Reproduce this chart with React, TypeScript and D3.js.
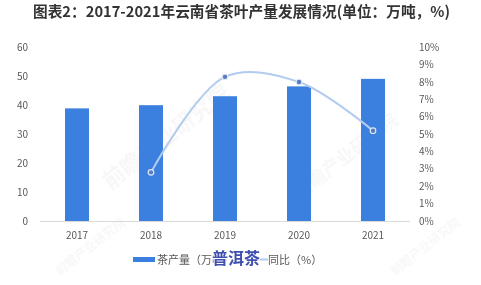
import React from "react";
import * as d3 from "d3";

const years = ["2017", "2018", "2019", "2020", "2021"];
const output = [38.9, 40.0, 43.1, 46.5, 49.1]; // 茶产量（万吨）
const yoyYears = ["2018", "2019", "2020", "2021"];
const yoy = [2.8, 8.3, 8.0, 5.2]; // 同比（%）
const leftTicks = [0, 10, 20, 30, 40, 50, 60];
const rightTicks = [0, 1, 2, 3, 4, 5, 6, 7, 8, 9, 10];

const W = 481;
const H = 285;
const font = "'Microsoft YaHei', 'Noto Sans CJK SC', sans-serif";

export default function App() {
  const x = d3.scaleBand<string>().domain(years).range([40, 410]).paddingInner(0);
  const yL = d3.scaleLinear().domain([0, 60]).range([221, 47.3]);
  const yR = d3.scaleLinear().domain([0, 10]).range([221, 47.3]);
  const barW = 24;
  const cx = (d: string) => (x(d) as number) + x.bandwidth() / 2;

  const pts: [number, number][] = yoyYears.map((yr, i) => [cx(yr), yR(yoy[i])]);
  const line = d3.line().curve(d3.curveCatmullRom.alpha(0.5))(pts) as string;

  const axisColor = "#595959";

  return (
    <svg width={W} height={H} style={{ position: "absolute", left: 0, top: 0, background: "#fff" }}>
      <rect width={W} height={H} fill="#fff" />
      {/* faint diagonal watermarks */}
      <g fill="#000" opacity={0.035} fontFamily={font} fontSize={22} fontWeight="bold">
        <text transform="translate(110,190) rotate(-38)">前瞻产业研究院</text>
        <text transform="translate(300,200) rotate(-38)" fontSize={18}>前瞻产业研究院</text>
        <text transform="translate(60,276) rotate(-38)" fontSize={12}>前瞻产业研究院</text>
        <text transform="translate(395,276) rotate(-38)" fontSize={12}>前瞻产业研究院</text>
      </g>

      <text x={33} y={17} fontFamily={font} fontSize={15} fontWeight="bold" fill="#333" textLength={417} lengthAdjust="spacingAndGlyphs">
        图表2：2017-2021年云南省茶叶产量发展情况(单位：万吨，%)
      </text>

      {/* left axis labels */}
      {leftTicks.map((t) => (
        <text key={"l" + t} x={28} y={yL(t)} dy="0.35em" textAnchor="end" fontFamily={font} fontSize={10} fill={axisColor}>
          {t}
        </text>
      ))}
      {/* right axis labels */}
      {rightTicks.map((t) => (
        <text key={"r" + t} x={419} y={yR(t)} dy="0.35em" textAnchor="start" fontFamily={font} fontSize={10} fill={axisColor}>
          {t + "%"}
        </text>
      ))}

      {/* bars */}
      {years.map((yr, i) => (
        <rect key={yr} x={cx(yr) - barW / 2} y={yL(output[i])} width={barW} height={yL(0) - yL(output[i])} fill="#3b7fdf" />
      ))}

      <line x1={40} x2={410} y1={221.5} y2={221.5} stroke="#d9d9d9" strokeWidth={1} />

      {/* x labels */}
      {years.map((yr) => (
        <text key={"x" + yr} x={cx(yr)} y={235} dy="0.35em" textAnchor="middle" fontFamily={font} fontSize={10} fill={axisColor}>
          {yr}
        </text>
      ))}

      {/* yoy line */}
      <path d={line} fill="none" stroke="#b3cbef" strokeWidth={2} />
      {pts.map((p, i) => (
        <circle key={"p" + i} cx={p[0]} cy={p[1]} r={2.8} fill="#5a7cbc" stroke="#dce7f7" strokeWidth={1.2} />
      ))}

      {/* legend */}
      <rect x={133} y={257} width={22} height={5} fill="#3b7fdf" />
      <text x={157} y={260} dy="0.35em" fontFamily={font} fontSize={11} fill={axisColor}>茶产量（万吨）</text>
      <line x1={250} x2={268} y1={259.5} y2={259.5} stroke="#b3cbef" strokeWidth={2} />
      <text x={268} y={260} dy="0.35em" fontFamily={font} fontSize={11} fill={axisColor}>同比（%）</text>
      <text x={212} y={258} dy="0.36em" fontFamily={font} fontSize={16} fontWeight="bold" fill="#3f4fae" stroke="#fff" strokeWidth={2} paintOrder="stroke">
        普洱茶
      </text>
    </svg>
  );
}
